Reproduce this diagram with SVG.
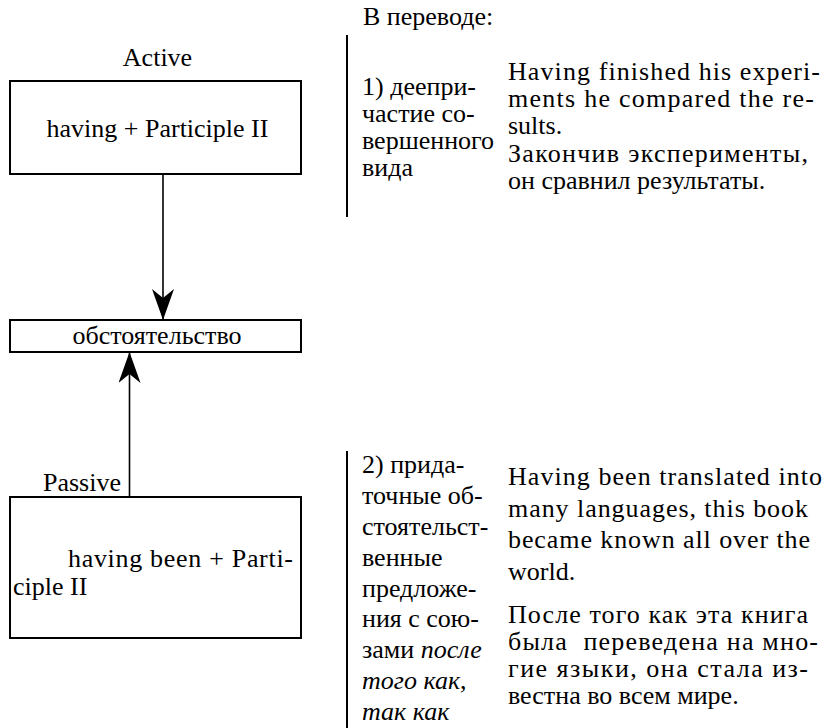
<svg xmlns="http://www.w3.org/2000/svg" width="824" height="728" viewBox="0 0 824 728">
<style>
text { font-family: "Liberation Serif", "Times New Roman", serif; font-size: 26px; fill: #000; }
.c { text-anchor: middle; }
.i { font-style: italic; }
.pre { white-space: pre; }
.box { fill: #fff; stroke: #000; stroke-width: 2; }
.sep { stroke: #000; stroke-width: 2; fill: none; }
.conn { stroke: #000; stroke-width: 1.6; fill: none; }
</style>
<defs>
<marker id="ah" markerUnits="userSpaceOnUse" markerWidth="31" markerHeight="22" viewBox="0 0 31 22" refX="31" refY="11" orient="auto">
<path d="M0,0 L31,11 L0,22 L9,11 Z" fill="#000"/>
</marker>
</defs>
<rect width="824" height="728" fill="#fff"/>

<g id="connectors">
<line class="conn" x1="163" y1="174" x2="163" y2="320" marker-end="url(#ah)"/>
<line class="conn" x1="129.5" y1="497" x2="129.5" y2="352" marker-end="url(#ah)"/>
</g>

<g id="node-active">
<text class="c" x="157.5" y="66">Active</text>
<rect class="box" x="10" y="81" width="291" height="93"/>
<text class="c" x="157.5" y="137">having + Participle II</text>
</g>

<g id="node-obst">
<rect class="box" x="10" y="320" width="291" height="32"/>
<text class="c" x="157" y="344">обстоятельство</text>
</g>

<g id="node-passive">
<text x="43" y="491">Passive</text>
<rect class="box" x="10" y="497" width="291" height="141"/>
<text x="68" y="567" textLength="225" lengthAdjust="spacing">having been + Parti-</text>
<text x="13" y="595">ciple II</text>
</g>

<g id="translation-header">
<text x="363" y="25">В переводе:</text>
</g>

<g id="case-1">
<line class="sep" x1="347" y1="35" x2="347" y2="217"/>
<text x="362" y="95">1) деепри-</text>
<text x="362" y="122">частие со-</text>
<text x="362" y="149">вершенного</text>
<text x="362" y="176">вида</text>
<text x="508" y="80" textLength="312" lengthAdjust="spacing">Having finished his experi-</text>
<text x="508" y="107" textLength="306" lengthAdjust="spacing">ments he compared the re-</text>
<text x="508" y="134">sults.</text>
<text x="508" y="162" textLength="300" lengthAdjust="spacing">Закончив эксперименты,</text>
<text x="508" y="189">он сравнил результаты.</text>
</g>

<g id="case-2">
<line class="sep" x1="347" y1="451" x2="347" y2="728"/>
<text x="362" y="473">2) прида-</text>
<text x="362" y="504">точные об-</text>
<text x="362" y="535">стоятельст-</text>
<text x="362" y="566">венные</text>
<text x="362" y="597">предложе-</text>
<text x="362" y="627">ния с сою-</text>
<text x="362" y="658">зами <tspan class="i">после</tspan></text>
<text x="362" y="689"><tspan class="i">того как</tspan>,</text>
<text x="362" y="720" class="i">так как</text>
<text x="508" y="485" textLength="314" lengthAdjust="spacing">Having been translated into</text>
<text x="508" y="517" textLength="300" lengthAdjust="spacing">many languages, this book</text>
<text x="508" y="548" textLength="302" lengthAdjust="spacing">became known all over the</text>
<text x="508" y="580">world.</text>
<text x="508" y="623" textLength="300" lengthAdjust="spacing">После того как эта книга</text>
<text x="508" y="650" class="pre" textLength="310" lengthAdjust="spacing">была  переведена на мно-</text>
<text x="508" y="677" textLength="300" lengthAdjust="spacing">гие языки, она стала из-</text>
<text x="508" y="704">вестна во всем мире.</text>
</g>
</svg>
